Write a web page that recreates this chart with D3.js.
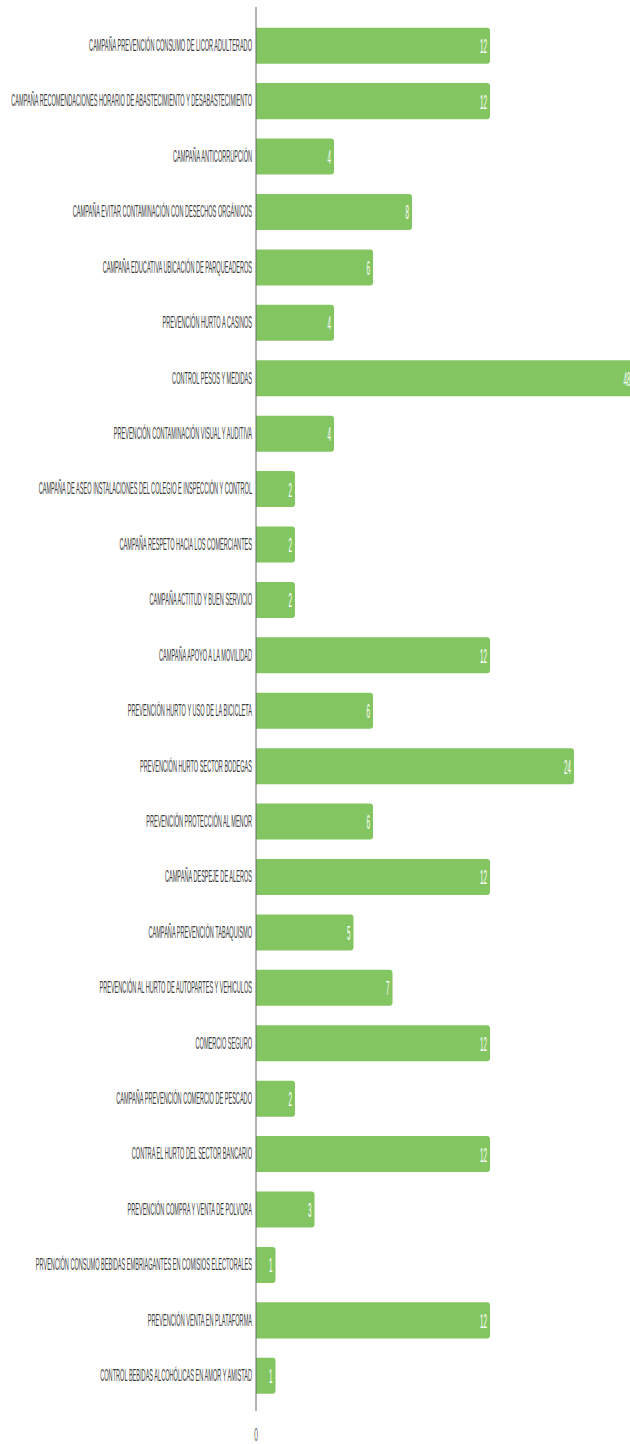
<!DOCTYPE html>
<html><head><meta charset="utf-8">
<script src="https://cdn.jsdelivr.net/npm/d3@7"></script>
<style>html,body{margin:0;padding:0;background:#fff;overflow:hidden}</style>
</head><body>
<svg id="chart" width="630" height="1444"></svg>
<script>
const categories = [
  "CAMPAÑA PREVENCIÓN CONSUMO DE LICOR ADULTERADO",
  "CAMPAÑA RECOMENDACIONES HORARIO DE ABASTECIMIENTO Y DESABASTECIMIENTO",
  "CAMPAÑA ANTICORRUPCIÓN",
  "CAMPAÑA EVITAR CONTAMINACIÓN CON DESECHOS ORGÁNICOS",
  "CAMPAÑA EDUCATIVA UBICACIÓN DE PARQUEADEROS",
  "PREVENCIÓN HURTO A CASINOS",
  "CONTROL PESOS Y MEDIDAS",
  "PREVENCIÓN CONTAMINACIÓN VISUAL Y AUDITIVA",
  "CAMPAÑA DE ASEO INSTALACIONES DEL COLEGIO E INSPECCIÓN Y CONTROL",
  "CAMPAÑA RESPETO HACIA LOS COMERCIANTES",
  "CAMPAÑA ACTITUD Y BUEN SERVICIO",
  "CAMPAÑA APOYO A LA MOVILIDAD",
  "PREVENCIÓN HURTO Y USO DE LA BICICLETA",
  "PREVENCIÓN HURTO SECTOR BODEGAS",
  "PREVENCIÓN PROTECCIÓN AL MENOR",
  "CAMPAÑA DESPEJE DE ALEROS",
  "CAMPAÑA PREVENCIÓN TABAQUISMO",
  "PREVENCIÓN AL HURTO DE AUTOPARTES Y VEHICULOS",
  "COMERCIO SEGURO",
  "CAMPAÑA PREVENCIÓN COMERCIO DE PESCADO",
  "CONTRA EL HURTO DEL SECTOR BANCARIO",
  "PREVENCIÓN COMPRA Y VENTA DE POLVORA",
  "PRVENCIÓN CONSUMO  BEBIDAS EMBRIAGANTES EN COMISIOS ELECTORALES",
  "PREVENCIÓN VENTA EN PLATAFORMA",
  "CONTROL BEBIDAS ALCOHÓLICAS EN AMOR Y AMISTAD"
];
const values = [12,12,4,8,6,4,48,4,2,2,2,12,6,24,6,12,5,7,12,2,12,3,1,12,1];
const xTickValues = [0];

const svg = d3.select("#chart");
const x0 = 256;
// axis of the original is non-uniform above 12 (bars for 24 and 48 are compressed)
const x = d3.scaleLinear().domain([0, 12, 24, 48]).range([x0, x0 + 234, x0 + 318, x0 + 377.5]);
const y = d3.scaleBand().domain(categories).range([18, 1403.5]).paddingInner(0.35).paddingOuter(0.175);

const barColor = "#83c661";
const r = 3;
const bh = y.bandwidth();

svg.append("g").selectAll("path").data(values).join("path")
  .attr("fill", barColor)
  .attr("d", (d, i) => {
    const yt = y(categories[i]), xr = x(d), xl = x(0);
    return `M${xl},${yt}H${xr - r}A${r},${r} 0 0 1 ${xr},${yt + r}V${yt + bh - r}A${r},${r} 0 0 1 ${xr - r},${yt + bh}H${xl}Z`;
  });

// axis line
svg.append("line").attr("x1", x0).attr("x2", x0).attr("y1", 7).attr("y2", 1411)
  .attr("stroke", "#666").attr("stroke-width", 1);

const fontFam = "'Liberation Sans', Arial, sans-serif";

// category labels
const catG = svg.append("g");
const cats = catG.selectAll("text").data(categories).join("text")
  .text(d => d)
  .attr("font-family", fontFam).attr("font-size", 16).attr("fill", "#3a3a3a")
  .attr("text-anchor", "end").attr("dominant-baseline", "central");
const refW = cats.filter((d) => d === "CONTROL PESOS Y MEDIDAS").node().getComputedTextLength();
const sxCat = 80 / refW;
cats.attr("transform", d => `translate(${x0 - 4},${y(d) + bh / 2}) scale(${sxCat},1)`);

// value labels
const vals = svg.append("g").selectAll("text").data(values).join("text")
  .text(d => d)
  .attr("font-family", fontFam).attr("font-size", 21).attr("fill", "#fff")
  .attr("text-anchor", "end").attr("dominant-baseline", "central");
const sxVal = 0.3;
vals.attr("transform", (d, i) => `translate(${x(d) - 3},${y(categories[i]) + bh / 2}) scale(${sxVal},1)`);

// x tick label
svg.append("g").selectAll("text").data(xTickValues).join("text")
  .text(d => d)
  .attr("font-family", fontFam).attr("font-size", 19).attr("fill", "#595959")
  .attr("text-anchor", "middle")
  .attr("transform", d => `translate(${x(d)},1441) scale(0.35,1)`);
</script>
</body></html>
